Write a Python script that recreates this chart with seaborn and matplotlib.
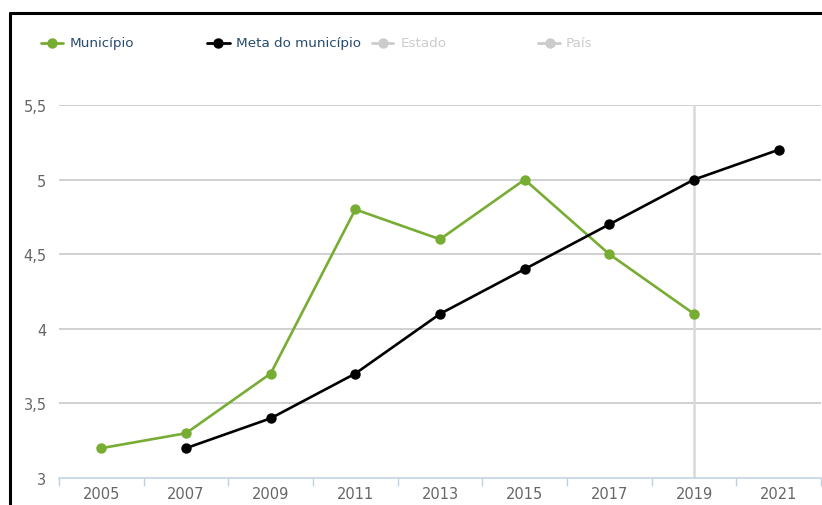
import numpy as np
import pandas as pd
import matplotlib
matplotlib.use('Agg')
import matplotlib.pyplot as plt
from matplotlib.lines import Line2D
import seaborn as sns

# Dados
anos = ['2005', '2007', '2009', '2011', '2013', '2015', '2017', '2019', '2021']
anos_municipio = ['2005', '2007', '2009', '2011', '2013', '2015', '2017', '2019']
municipio = [3.2, 3.3, 3.7, 4.8, 4.6, 5.0, 4.5, 4.1]
anos_meta = ['2007', '2009', '2011', '2013', '2015', '2017', '2019', '2021']
meta = [3.2, 3.4, 3.7, 4.1, 4.4, 4.7, 5.0, 5.2]
y_ticks = [3, 3.5, 4, 4.5, 5, 5.5]
y_labels = ['3', '3,5', '4', '4,5', '5', '5,5']
ano_destacado = '2019'

VERDE = '#78ad34'
PRETO = '#000000'
CINZA_OCULTO = '#cccccc'
COR_LEGENDA = '#274b6d'
COR_EIXO = '#c0d0e0'

sns.set_theme(style='white')
plt.rcParams['font.family'] = ['DejaVu Sans']

fig = plt.figure(figsize=(8.22, 5.06), dpi=100)
ax = fig.add_axes([59 / 822, 27 / 506, 762 / 822, 373 / 506])

df_mun = pd.DataFrame({'pos': [anos.index(a) for a in anos_municipio], 'valor': municipio})
df_meta = pd.DataFrame({'pos': [anos.index(a) for a in anos_meta], 'valor': meta})

# grade horizontal e linha vertical (crosshair) no ano destacado
for yv in y_ticks[1:]:
    ax.axhline(yv, color='#c4c4c4', lw=1.1, zorder=0)
ax.axvline(anos.index(ano_destacado), color='#d9d9d9', lw=1.8, zorder=0)

sns.lineplot(data=df_mun, x='pos', y='valor', ax=ax, color=VERDE, lw=1.9,
             marker='o', markersize=7.5, markeredgewidth=0, zorder=3)
sns.lineplot(data=df_meta, x='pos', y='valor', ax=ax, color=PRETO, lw=1.9,
             marker='o', markersize=7.5, markeredgewidth=0, zorder=4)

ax.set_xlim(-0.5, len(anos) - 0.5)
ax.set_ylim(3, 5.5)
ax.set_xticks(range(len(anos)))
ax.set_xticklabels(anos)
ax.set_xticks(np.arange(-0.5, len(anos), 1.0), minor=True)
ax.set_yticks(y_ticks)
ax.set_yticklabels(y_labels)
ax.tick_params(axis='x', which='major', length=0, pad=6, labelsize=10.5, labelcolor='#666666')
ax.tick_params(axis='x', which='minor', length=6, width=1, color=COR_EIXO, direction='out', bottom=True)
ax.tick_params(axis='y', length=0, pad=9, labelsize=10.5, labelcolor='#666666')
ax.set_xlabel('')
ax.set_ylabel('')
for s in ['top', 'right', 'left']:
    ax.spines[s].set_visible(False)
ax.spines['bottom'].set_color(COR_EIXO)
ax.spines['bottom'].set_linewidth(1.1)

# legenda no estilo do original
def item_legenda(x0, x1, xm, xt, cor, texto, cor_texto, estilo='-'):
    yl = 1 - 44 / 506
    fig.lines.append(Line2D([x0 / 822, x1 / 822], [yl, yl], transform=fig.transFigure,
                            color=cor, lw=2, ls=estilo))
    fig.lines.append(Line2D([xm / 822], [yl], transform=fig.transFigure, color=cor,
                            marker='o', markersize=7.5, markeredgewidth=0))
    fig.text(xt / 822, yl, texto, color=cor_texto, fontsize=9.7, va='center', ha='left')

item_legenda(41, 63, 52, 70, VERDE, 'Município', COR_LEGENDA)
item_legenda(207, 230, 218, 236, PRETO, 'Meta do município', COR_LEGENDA)
item_legenda(372, 393, 383, 401, CINZA_OCULTO, 'Estado', CINZA_OCULTO)
item_legenda(537, 561, 550, 566, CINZA_OCULTO, 'País', CINZA_OCULTO, estilo=(0, (4, 2)))

# moldura preta (recortada) em volta do gráfico
fig.lines.append(Line2D([10 / 822, 1.0], [1 - 14 / 506, 1 - 14 / 506], transform=fig.transFigure,
                        color='black', lw=2.2))
fig.lines.append(Line2D([10 / 822, 10 / 822], [0.0, 1 - 14 / 506], transform=fig.transFigure,
                        color='black', lw=2.2))

fig.savefig('out.png', dpi=100)
